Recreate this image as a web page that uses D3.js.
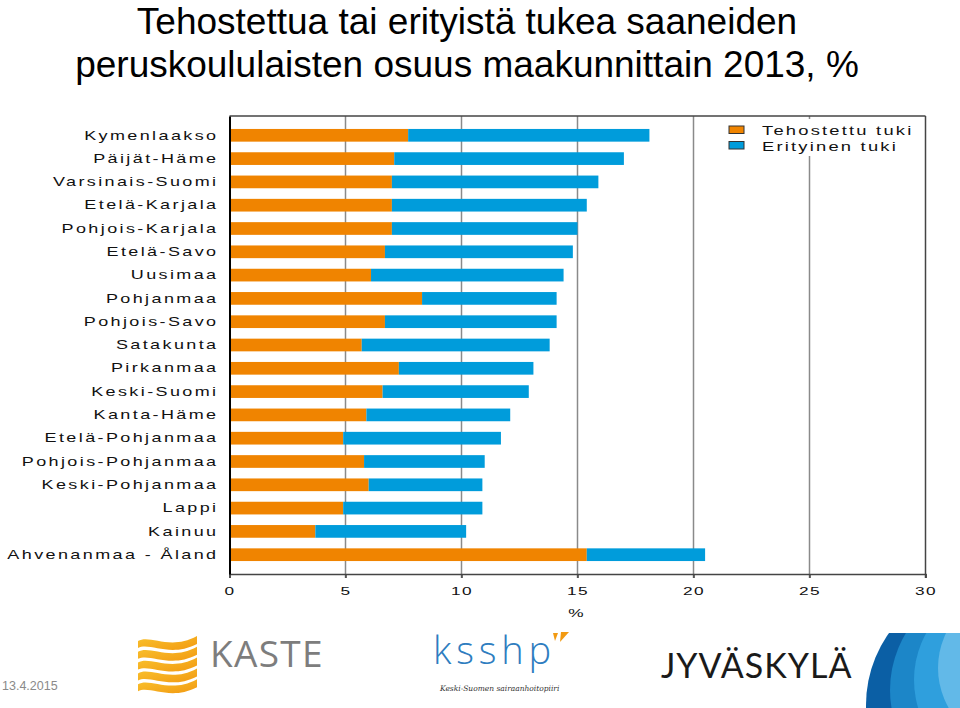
<!DOCTYPE html>
<html>
<head>
<meta charset="utf-8">
<script src="https://cdn.jsdelivr.net/npm/d3@7"></script>
<style>
  html, body { margin: 0; padding: 0; background: #fff; }
  svg { display: block; }
</style>
</head>
<body>
<svg id="chart" width="960" height="708"></svg>
<script>
const titleLines = ["Tehostettua tai erityistä tukea saaneiden", "peruskoululaisten osuus maakunnittain 2013, %"];
const categories = ["Kymenlaakso", "Päijät-Häme", "Varsinais-Suomi", "Etelä-Karjala", "Pohjois-Karjala",
  "Etelä-Savo", "Uusimaa", "Pohjanmaa", "Pohjois-Savo", "Satakunta", "Pirkanmaa", "Keski-Suomi",
  "Kanta-Häme", "Etelä-Pohjanmaa", "Pohjois-Pohjanmaa", "Keski-Pohjanmaa", "Lappi", "Kainuu",
  "Ahvenanmaa - Åland"];
const tehostettu = [7.7, 7.1, 7.0, 7.0, 7.0, 6.7, 6.1, 8.3, 6.7, 5.7, 7.3, 6.6, 5.9, 4.9, 5.8, 6.0, 4.9, 3.7, 15.4];
const erityinen  = [10.4, 9.9, 8.9, 8.4, 8.0, 8.1, 8.3, 5.8, 7.4, 8.1, 5.8, 6.3, 6.2, 6.8, 5.2, 4.9, 6.0, 6.5, 5.1];
const seriesNames = ["Tehostettu tuki", "Erityinen tuki"];
const xTicks = [0, 5, 10, 15, 20, 25, 30];
const xAxisTitle = "%";
const dateText = "13.4.2015";

(function () {
const colors = ["#F08400", "#009CDB"];
const svg = d3.select("#chart");
const pL = 229.5, pR = 925.5, pT = 116, pB = 574;
const STRETCH = 1.5;
const labelFont = "'Liberation Sans', Arial, sans-serif";

// Title
svg.append("g").selectAll("text").data(titleLines).join("text")
  .attr("x", 467).attr("y", (d, i) => 33.5 + i * 43)
  .attr("text-anchor", "middle")
  .attr("font-family", labelFont).attr("font-size", 37).attr("fill", "#000")
  .text(d => d);

const x = d3.scaleLinear().domain([0, 30]).range([pL, pR]);
const y = d3.scaleBand().domain(categories).range([pT, pB])
  .paddingInner(0.455).paddingOuter(0.556);

// gridlines
svg.append("g").selectAll("line").data(xTicks.filter(t => t > 0 && t < 30)).join("line")
  .attr("x1", d => x(d)).attr("x2", d => x(d)).attr("y1", pT).attr("y2", pB + 4)
  .attr("stroke", "#8a8a8a").attr("stroke-width", 1.5);

// frame top / right
svg.append("line").attr("x1", pL).attr("x2", pR).attr("y1", pT).attr("y2", pT)
  .attr("stroke", "#444").attr("stroke-width", 1.5);
svg.append("line").attr("x1", pR).attr("x2", pR).attr("y1", pT).attr("y2", pB + 4)
  .attr("stroke", "#444").attr("stroke-width", 1.5);

// stacked bars
const rows = categories.map((c, i) => ({ c, a: tehostettu[i], b: erityinen[i] }));
const gBars = svg.append("g");
gBars.selectAll("rect.t").data(rows).join("rect").attr("class", "t")
  .attr("x", x(0)).attr("y", d => y(d.c))
  .attr("width", d => x(d.a) - x(0)).attr("height", y.bandwidth())
  .attr("fill", colors[0]);
gBars.selectAll("rect.e").data(rows).join("rect").attr("class", "e")
  .attr("x", d => x(d.a)).attr("y", d => y(d.c))
  .attr("width", d => x(d.a + d.b) - x(d.a)).attr("height", y.bandwidth())
  .attr("fill", colors[1]);

// x axis
const xAxis = d3.axisBottom(x).tickValues(xTicks).tickSize(4).tickFormat(d3.format("d"));
const gx = svg.append("g").attr("transform", `translate(0,${pB})`).call(xAxis);
gx.select(".domain").attr("stroke", "#444").attr("stroke-width", 1.5);
gx.selectAll(".tick line").attr("stroke", "#444").attr("stroke-width", 1.5);
gx.selectAll(".tick text")
  .attr("font-family", labelFont).attr("font-size", 11.5).attr("fill", "#111")
  .attr("letter-spacing", "1px")
  .attr("y", 0).attr("dy", 0)
  .attr("transform", `translate(0,21) scale(${STRETCH},1)`);

svg.append("text").attr("transform", `translate(576,617) scale(${STRETCH},1)`)
  .attr("text-anchor", "middle").attr("font-family", labelFont).attr("font-size", 11.5)
  .attr("fill", "#111").text(xAxisTitle);

// y axis
const yAxis = d3.axisLeft(y).tickSize(0).tickPadding(0);
const gy = svg.append("g").attr("transform", `translate(${pL},0)`).call(yAxis);
gy.select(".domain").attr("stroke", "#000").attr("stroke-width", 2);
gy.selectAll(".tick text")
  .attr("font-family", labelFont).attr("font-size", 12).attr("fill", "#111")
  .attr("letter-spacing", "1.6px")
  .attr("x", 0).attr("dy", 0)
  .attr("transform", `translate(-11,4.2) scale(${STRETCH},1)`);

// legend
const lg = svg.append("g");
lg.append("rect").attr("x", 716).attr("y", 119).attr("width", 206).attr("height", 37).attr("fill", "#fff");
const li = lg.selectAll("g.item").data(seriesNames).join("g").attr("class", "item")
  .attr("transform", (d, i) => `translate(729,${126 + i * 15.5})`);
li.append("rect").attr("width", 15).attr("height", 7.5)
  .attr("fill", (d, i) => colors[i]).attr("stroke", "#333").attr("stroke-width", 1);
li.append("text").attr("transform", `translate(33,9) scale(1.47,1)`)
  .attr("font-family", labelFont).attr("font-size", 12.5).attr("letter-spacing", "1.5px")
  .attr("fill", "#111").text(d => d);

// footer: date
svg.append("text").attr("x", 2).attr("y", 690).attr("font-family", labelFont)
  .attr("font-size", 12.5).attr("fill", "#8a8a8a").text(dateText);

// KASTE logo
const defs = svg.append("defs");
const gold = defs.append("linearGradient").attr("id", "gold").attr("x1", "0").attr("x2", "1").attr("y1", "0").attr("y2", "1");
gold.append("stop").attr("offset", "0").attr("stop-color", "#F9C22E");
gold.append("stop").attr("offset", "1").attr("stop-color", "#F29A12");
const kaste = svg.append("g");
d3.range(5).forEach(i => {
  const y0 = 641 + i * 10.8;
  kaste.append("path")
    .attr("d", `M138,${y0} C150,${y0 - 7} 170,${y0 + 10} 197,${y0 - 5} L197,${y0 + 3} C170,${y0 + 17} 150,${y0 + 1} 138,${y0 + 7} Z`)
    .attr("fill", "url(#gold)");
});
kaste.append("text").attr("x", 210).attr("y", 667).attr("font-family", "'Open Sans', sans-serif")
  .attr("font-size", 37).attr("font-weight", 400).attr("fill", "#7d7d7d").attr("letter-spacing", "1.3px").text("KASTE");

// ksshp logo
const ks = svg.append("g");
ks.append("text").attr("x", 433).attr("y", 664).attr("font-family", "'Open Sans', sans-serif")
  .attr("font-size", 38).attr("font-weight", 300).attr("letter-spacing", "4.8px").attr("fill", "#2E7DBF").text("ksshp");
ks.append("path").attr("d", "M553,633 L558,633 L555,641 Z").attr("fill", "#F29A12");
ks.append("path").attr("d", "M561,632 L569,632 L560,642 Z").attr("fill", "#F29A12");
ks.append("text").attr("x", 440).attr("y", 691).attr("font-family", "'DejaVu Serif', serif")
  .attr("font-style", "italic").attr("font-size", 7.5).attr("fill", "#333").text("Keski-Suomen sairaanhoitopiiri");

// Jyväskylä logo
svg.append("text").attr("x", 661).attr("y", 678).attr("font-family", "Lato, 'Open Sans', sans-serif")
  .attr("font-size", 34).attr("letter-spacing", "1px").attr("fill", "#1a1a1a").text("JYVÄSKYLÄ");
defs.append("clipPath").attr("id", "jclip").append("rect").attr("x", 860).attr("y", 633).attr("width", 100).attr("height", 75);
const jg = svg.append("g").attr("clip-path", "url(#jclip)");
[[990, 705, 124, "#0B5FA5"], [1000, 690, 110, "#1C86C8"], [1010, 680, 96, "#2F9FDD"], [1018, 668, 80, "#62B9E8"], [1025, 655, 62, "#9DD3F1"], [1030, 645, 42, "#CBE8F8"]]
  .forEach(([cx, cy, r, c]) => jg.append("circle").attr("cx", cx).attr("cy", cy).attr("r", r).attr("fill", c));
})();
</script>
</body>
</html>
